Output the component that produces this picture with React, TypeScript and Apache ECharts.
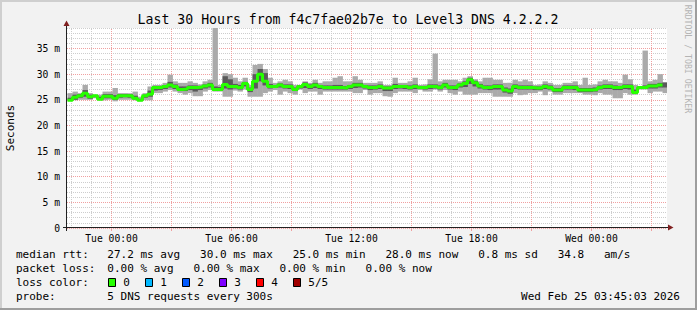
import React, { useEffect, useRef } from 'react';
import * as echarts from 'echarts';

// ---------- text ----------
const TITLE = 'Last 30 Hours from f4c7fae02b7e to Level3 DNS 4.2.2.2';
const Y_TITLE = 'Seconds';
const WATERMARK = 'RRDTOOL / TOBI OETIKER';

// ---------- axes ----------
// x values are hours relative to Tue 00:00
const X_MIN = -2.225;
const X_MAX = 27.775;
const Y_MIN = 0;
const Y_MAX = 39;
const xLabelHours = [0, 6, 12, 18, 24];
const xLabelTexts = ['Tue 00:00', 'Tue 06:00', 'Tue 12:00', 'Tue 18:00', 'Wed 00:00'];
const xGridHours = [-2, -1, 0, 1, 2, 3, 4, 5, 6, 7, 8, 9, 10, 11, 12, 13, 14, 15, 16, 17, 18, 19, 20, 21, 22, 23, 24, 25, 26, 27];
const xMajorTickHours = [0, 3, 6, 9, 12, 15, 18, 21, 24, 27];
const yUnit = ' m';

// ---------- data (ms), one sample every 15 minutes starting Mon 21:48 ----------
const SAMPLE_START = -2.2;
const SAMPLE_STEP = 0.25;

const median = [
  24.9, 25.5, 25.8, 26.3, 25.6, 25.8, 25.1, 25.7, 25.7, 25.3,
  25.8, 25.8, 25.8, 25.3, 24.9, 25.8, 26.1, 27.4, 27.4, 27.6,
  27.9, 27.6, 27.0, 27.1, 27.4, 27.4, 27.5, 27.7, 27.9, 27.0,
  27.0, 28.0, 27.6, 27.6, 27.4, 28.2, 27.0, 28.6, 30.0, 28.6,
  27.6, 27.6, 27.9, 27.6, 27.6, 27.0, 27.6, 28.0, 27.6, 27.9,
  27.6, 27.4, 27.4, 27.4, 27.4, 27.3, 27.6, 27.9, 27.9, 27.6,
  27.4, 27.4, 27.6, 27.3, 27.3, 27.6, 27.6, 27.6, 27.4, 27.6,
  27.4, 27.4, 27.6, 27.6, 27.4, 27.9, 27.4, 27.4, 27.9, 28.2,
  28.9, 28.3, 27.7, 27.4, 27.4, 27.6, 27.6, 26.9, 26.7, 27.6,
  27.4, 27.4, 27.4, 27.3, 27.3, 27.6, 27.4, 26.9, 26.9, 27.4,
  27.4, 27.4, 26.9, 26.9, 26.9, 27.0, 27.4, 27.6, 27.6, 27.4,
  27.4, 27.6, 27.6, 26.4, 27.4, 27.4, 27.7, 27.7, 27.9, 28.0,
];

const smokeMin = [
  24.9, 24.9, 25.0, 25.0, 25.0, 25.3, 24.9, 24.9, 25.0, 24.7,
  25.0, 25.0, 25.0, 24.9, 24.7, 24.9, 24.9, 26.3, 26.3, 26.6,
  26.9, 26.6, 26.3, 26.0, 26.3, 25.7, 25.7, 26.6, 26.9, 26.6,
  26.6, 25.6, 25.6, 26.8, 26.6, 27.0, 25.6, 25.6, 25.6, 26.3,
  26.6, 26.9, 26.0, 26.6, 26.3, 26.0, 27.0, 26.3, 26.6, 26.6,
  26.0, 26.6, 26.6, 26.6, 26.6, 26.6, 26.6, 26.3, 26.3, 26.9,
  26.0, 26.3, 26.3, 25.7, 25.6, 26.3, 26.6, 26.6, 26.6, 26.3,
  26.9, 26.6, 26.6, 27.0, 26.6, 26.9, 26.3, 26.0, 26.6, 26.0,
  26.0, 26.0, 26.3, 26.3, 26.3, 25.6, 25.6, 25.6, 25.6, 26.3,
  25.9, 26.0, 26.3, 26.3, 26.6, 25.9, 26.6, 26.0, 26.0, 26.3,
  26.3, 26.3, 26.3, 26.0, 26.0, 25.9, 26.3, 26.0, 26.0, 25.3,
  25.3, 26.3, 26.0, 26.0, 27.0, 27.0, 26.3, 26.6, 26.6, 26.3,
];

const smokeMax = [
  26.3, 26.6, 26.3, 27.9, 26.3, 26.0, 26.0, 26.6, 26.6, 27.3,
  26.3, 26.3, 26.3, 26.6, 25.6, 26.3, 27.6, 27.9, 27.9, 28.3,
  29.9, 28.6, 28.3, 28.3, 28.6, 28.3, 28.0, 28.6, 28.9, 39.5,
  27.9, 30.2, 30.0, 29.3, 28.6, 29.3, 27.9, 31.8, 32.0, 31.0,
  29.3, 28.3, 28.6, 28.9, 28.6, 27.9, 27.9, 28.6, 28.3, 28.9,
  28.3, 28.6, 28.6, 29.3, 29.6, 28.6, 28.6, 29.6, 28.9, 28.3,
  28.3, 28.3, 28.6, 27.9, 27.9, 29.3, 28.3, 28.3, 28.6, 29.3,
  27.9, 28.0, 29.0, 34.0, 28.6, 28.9, 28.9, 28.9, 28.6, 29.3,
  29.6, 29.0, 28.6, 29.3, 29.3, 28.9, 28.9, 28.3, 28.3, 28.9,
  28.6, 28.9, 28.6, 27.9, 28.0, 28.6, 28.3, 27.9, 27.9, 28.3,
  28.3, 28.6, 27.9, 29.3, 27.9, 28.0, 28.6, 28.9, 28.6, 28.6,
  28.3, 29.9, 29.0, 27.9, 27.6, 34.6, 28.6, 28.9, 30.0, 28.3,
];

const coreMin = [
  24.9, 25.0, 25.4, 25.6, 25.2, 25.5, 25.0, 25.3, 25.3, 25.0,
  25.4, 25.5, 25.4, 25.1, 24.8, 25.4, 25.6, 26.8, 26.9, 27.1,
  27.4, 27.1, 26.7, 26.7, 26.9, 26.6, 26.9, 27.2, 27.4, 26.9,
  26.8, 27.2, 27.0, 27.2, 27.0, 27.6, 26.5, 27.2, 28.6, 27.8,
  27.2, 27.3, 27.4, 27.2, 27.1, 26.7, 27.2, 27.3, 27.1, 27.3,
  27.1, 27.0, 27.0, 27.0, 27.0, 27.0, 27.1, 27.3, 27.4, 27.2,
  26.9, 27.0, 27.1, 26.7, 26.7, 27.1, 27.2, 27.1, 27.0, 27.1,
  27.1, 27.0, 27.1, 27.2, 27.0, 27.4, 27.0, 26.9, 27.4, 27.5,
  28.1, 27.6, 27.2, 27.0, 26.9, 27.0, 27.0, 26.4, 26.2, 27.1,
  27.0, 27.0, 27.0, 26.9, 26.9, 27.1, 27.0, 26.5, 26.5, 27.0,
  27.0, 26.9, 26.5, 26.5, 26.5, 26.6, 27.0, 27.1, 27.1, 26.9,
  26.9, 27.1, 27.0, 26.2, 27.1, 27.1, 27.2, 27.2, 27.4, 27.4,
];

const coreMax = [
  25.4, 26.0, 26.1, 26.9, 26.0, 25.9, 25.6, 26.1, 26.1, 25.9,
  26.1, 26.1, 26.1, 25.8, 25.2, 26.0, 26.8, 27.7, 27.7, 27.9,
  28.5, 28.0, 27.6, 27.6, 27.8, 27.8, 27.7, 28.0, 28.3, 27.6,
  27.5, 29.6, 29.0, 28.1, 27.9, 28.5, 27.4, 30.0, 31.0, 30.2,
  28.1, 27.9, 28.2, 28.0, 28.0, 27.4, 27.8, 28.4, 28.0, 28.3,
  27.9, 27.8, 27.8, 27.9, 27.9, 27.7, 27.9, 28.3, 28.3, 27.9,
  27.8, 27.8, 28.0, 27.6, 27.6, 28.1, 27.9, 27.9, 27.8, 28.0,
  27.7, 27.7, 28.0, 28.0, 27.8, 28.3, 27.8, 27.8, 28.2, 28.6,
  29.3, 28.7, 28.1, 27.8, 27.8, 28.0, 28.0, 27.4, 27.2, 28.0,
  27.8, 27.8, 27.8, 27.6, 27.6, 28.0, 27.8, 27.3, 27.3, 27.8,
  27.8, 27.8, 27.3, 27.3, 27.3, 27.4, 27.8, 28.0, 28.0, 27.8,
  27.7, 28.0, 28.0, 27.0, 27.5, 27.8, 28.1, 28.1, 28.3, 28.4,
];

// ---------- legend ----------
const statLabels = ['median rtt:', 'packet loss:', 'loss color:', 'probe:'];
const statValues = [
  '27.2 ms avg   30.0 ms max   25.0 ms min   28.0 ms now   0.8 ms sd   34.8   am/s',
  '0.00 % avg   0.00 % max   0.00 % min   0.00 % now',
  '',
  '5 DNS requests every 300s',
];
const lossLabels = ['0', '1', '2', '3', '4', '5/5'];
const lossColors = ['#26ff00', '#00b8ff', '#0059ff', '#7e00ff', '#ff0000', '#a10000'];
const TIMESTAMP = 'Wed Feb 25 03:45:03 2026';

// ---------- style ----------
const MONO = '"DejaVu Sans Mono", monospace';
const MAJOR = '#f0a0a0';
const MINOR = '#cdcdcd';
const LIGHT_SMOKE = '#aaaaaa';
const DARK_SMOKE = '#5a5a5a';
const MEDIAN_COLOR = '#26ff00';

const nb = (s: string) => s.replace(/ /g, '\u00a0');

function bandSeries(name: string, lo: number[], hi: number[], color: string, z: number) {
  return {
    type: 'custom',
    name,
    silent: true,
    z,
    encode: { x: 0, y: [1, 2] },
    data: lo.map((v, i) => [SAMPLE_START + SAMPLE_STEP * i, v, hi[i]]),
    renderItem: (params: any, api: any) => {
      const t0 = api.value(0);
      const top = api.coord([t0, api.value(2)]);
      const bottom = api.coord([t0 + SAMPLE_STEP, api.value(1)]);
      const cs = params.coordSys;
      const rect = echarts.graphic.clipRectByRect(
        { x: top[0], y: top[1], width: bottom[0] - top[0] + 0.4, height: bottom[1] - top[1] },
        { x: cs.x, y: cs.y, width: cs.width, height: cs.height }
      );
      if (!rect) return null;
      return { type: 'rect', shape: rect, style: { fill: color } };
    },
  };
}

export default function App() {
  const ref = useRef<HTMLDivElement>(null);

  useEffect(() => {
    const chart = echarts.init(ref.current!, null, { renderer: 'svg', width: 697, height: 310 });

    const graphic: any[] = [];
    // frame
    graphic.push({ type: 'rect', silent: true, shape: { x: 0, y: 0, width: 697, height: 2 }, style: { fill: '#cfcfcf' } });
    graphic.push({ type: 'rect', silent: true, shape: { x: 0, y: 0, width: 2, height: 310 }, style: { fill: '#cfcfcf' } });
    graphic.push({ type: 'rect', silent: true, shape: { x: 0, y: 308, width: 697, height: 2 }, style: { fill: '#9e9e9e' } });
    graphic.push({ type: 'rect', silent: true, shape: { x: 695, y: 0, width: 2, height: 310 }, style: { fill: '#9e9e9e' } });
    // title
    graphic.push({
      type: 'text', silent: true, x: 348, y: 19,
      style: { text: TITLE, fontFamily: MONO, fontSize: 13.2, fill: '#000', align: 'center', verticalAlign: 'middle', textAlign: 'center', textVerticalAlign: 'middle' },
    });
    // y title
    graphic.push({
      type: 'text', silent: true, x: 10.5, y: 128, rotation: Math.PI / 2,
      style: { text: Y_TITLE, fontFamily: MONO, fontSize: 11, fill: '#000', align: 'center', verticalAlign: 'middle', textAlign: 'center', textVerticalAlign: 'middle' },
    });
    // watermark
    graphic.push({
      type: 'text', silent: true, x: 688, y: 59, rotation: -Math.PI / 2,
      style: { text: WATERMARK, fontFamily: MONO, fontSize: 8.2, fill: '#b4b4b4', align: 'center', verticalAlign: 'middle', textAlign: 'center', textVerticalAlign: 'middle' },
    });
    // axis lines + arrows
    graphic.push({ type: 'line', silent: true, z: 50, shape: { x1: 66.5, y1: 231, x2: 66.5, y2: 24 }, style: { stroke: '#212121', lineWidth: 1 } });
    graphic.push({ type: 'line', silent: true, z: 50, shape: { x1: 63, y1: 227.5, x2: 669, y2: 227.5 }, style: { stroke: '#212121', lineWidth: 1 } });
    graphic.push({ type: 'polygon', silent: true, z: 51, shape: { points: [[63.5, 26], [69.5, 26], [66.5, 20.5]] }, style: { fill: '#802020' } });
    graphic.push({ type: 'polygon', silent: true, z: 51, shape: { points: [[668, 224.5], [668, 230.5], [673.5, 227.5]] }, style: { fill: '#802020' } });

    // legend rows
    const rowY = [254, 268, 282, 296];
    statLabels.forEach((lab, r) => {
      graphic.push({
        type: 'text', silent: true, x: 16, y: rowY[r],
        style: { text: nb(lab), fontFamily: MONO, fontSize: 11, fill: '#000', align: 'left', verticalAlign: 'middle', textAlign: 'left', textVerticalAlign: 'middle' },
      });
      if (statValues[r]) {
        graphic.push({
          type: 'text', silent: true, x: 107.3, y: rowY[r],
          style: { text: nb(statValues[r]), fontFamily: MONO, fontSize: 11, fill: '#000', align: 'left', verticalAlign: 'middle', textAlign: 'left', textVerticalAlign: 'middle' },
        });
      }
    });
    lossLabels.forEach((lab, k) => {
      graphic.push({
        type: 'rect', silent: true,
        shape: { x: 108.5 + 37 * k, y: 278.5, width: 7, height: 8 },
        style: { fill: lossColors[k], stroke: '#000', lineWidth: 1 },
      });
      graphic.push({
        type: 'text', silent: true, x: 123.3 + 37 * k, y: rowY[2],
        style: { text: lab, fontFamily: MONO, fontSize: 11, fill: '#000', align: 'left', verticalAlign: 'middle', textAlign: 'left', textVerticalAlign: 'middle' },
      });
    });
    graphic.push({
      type: 'text', silent: true, x: 680, y: rowY[3],
      style: { text: nb(TIMESTAMP), fontFamily: MONO, fontSize: 11, fill: '#000', align: 'right', verticalAlign: 'middle', textAlign: 'right', textVerticalAlign: 'middle' },
    });

    const option: any = {
      animation: false,
      backgroundColor: '#f2f2f2',
      grid: {
        left: 67, top: 28, width: 600, height: 200,
        show: true, backgroundColor: '#ffffff', borderWidth: 0,
        outerBoundsMode: 'none',
      },
      xAxis: {
        type: 'value',
        min: X_MIN,
        max: X_MAX,
        axisLine: { show: false },
        splitLine: { show: false },
        axisTick: { show: true, customValues: xMajorTickHours, length: 3, lineStyle: { color: MAJOR } },
        axisLabel: {
          customValues: xLabelHours,
          formatter: (v: number) => {
            const k = xLabelHours.indexOf(Math.round(v));
            return k >= 0 ? xLabelTexts[k] : '';
          },
          fontFamily: MONO, fontSize: 9.7, color: '#000', margin: 5,
        },
      },
      yAxis: {
        type: 'value',
        min: Y_MIN,
        max: Y_MAX,
        interval: 1,
        axisLine: { show: false },
        axisTick: { show: false },
        axisLabel: {
          formatter: (v: number) => (v % 5 === 0 ? (v === 0 ? '0' : v + yUnit) : ''),
          fontFamily: MONO, fontSize: 9.7, color: '#000', margin: 7,
        },
        splitLine: {
          show: true,
          lineStyle: { color: [MAJOR, MINOR, MINOR, MINOR, MINOR], type: [1, 1], width: 1 },
        },
      },
      graphic,
      series: [
        bandSeries('smoke', smokeMin, smokeMax, LIGHT_SMOKE, 3),
        bandSeries('core', coreMin, coreMax, DARK_SMOKE, 4),
        {
          type: 'line',
          name: 'median',
          step: 'end',
          symbol: 'none',
          showSymbol: false,
          silent: true,
          data: median.map((v, i) => [SAMPLE_START + SAMPLE_STEP * i, v]),
          lineStyle: { color: MEDIAN_COLOR, width: 3 },
          z: 6,
          markLine: {
            silent: true,
            z: 1,
            symbol: ['none', 'none'],
            label: { show: false },
            animation: false,
            data: xGridHours.map((h) => ({
              xAxis: h,
              lineStyle: { color: xMajorTickHours.includes(h) ? MAJOR : MINOR, type: [1, 1], width: 1 },
            })),
          },
        },
      ],
    };

    chart.setOption(option);
    return () => chart.dispose();
  }, []);

  return <div ref={ref} style={{ position: 'fixed', left: 0, top: 0, width: 697, height: 310 }} />;
}
